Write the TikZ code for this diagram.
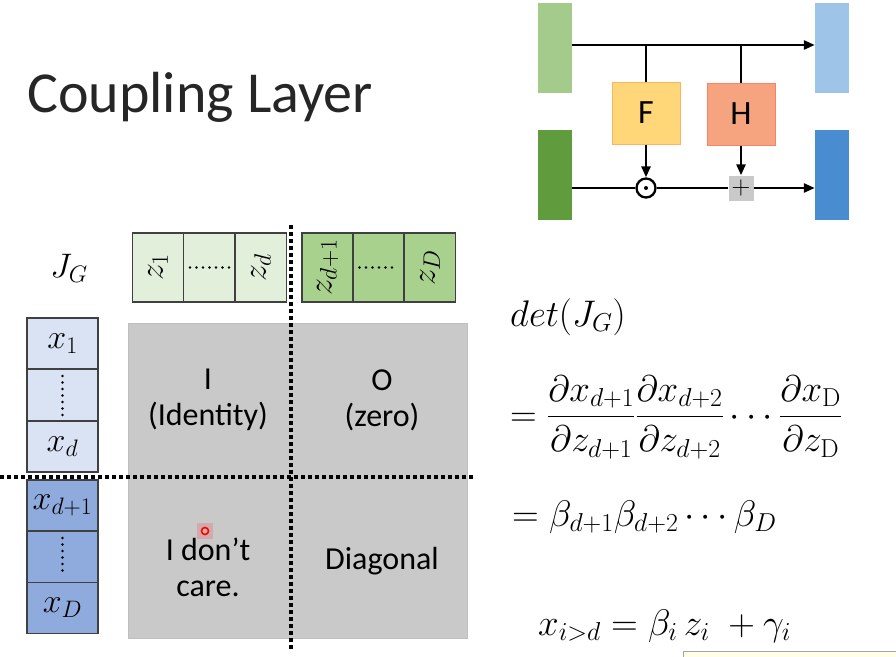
\RequirePackage{fix-cm}
\documentclass[tikz,border=0pt]{standalone}
\usepackage{amsmath}
\usepackage[no-math]{fontspec}
\setmainfont{Carlito}
\usetikzlibrary{arrows.meta}
\definecolor{zlight}{RGB}{226,239,218}
\definecolor{zdark}{RGB}{169,209,142}
\definecolor{xlight}{RGB}{218,227,243}
\definecolor{xdark}{RGB}{143,170,220}
\definecolor{gleft}{RGB}{165,203,140}
\definecolor{gdark}{RGB}{96,155,62}
\definecolor{bleft}{RGB}{158,197,232}
\definecolor{bdark}{RGB}{74,140,208}
\definecolor{fcol}{RGB}{255,214,120}
\definecolor{hcol}{RGB}{246,164,128}
\definecolor{mgray}{RGB}{201,201,201}
\begin{document}
\begin{tikzpicture}[x=1pt,y=-1pt,
        big/.style={font=\fontsize{32}{36}\selectfont, align=center},
        eq/.style={anchor=west, inner sep=0, font=\fontsize{37}{40}\selectfont},
        zcell/.style={draw=black!75, line width=1.2, minimum width=69, minimum height=51, inner sep=0, rotate=90, font=\fontsize{34}{36}\selectfont},
        xcell/.style={draw=black!75, line width=1.2, minimum width=71, minimum height=51, inner sep=0, font=\fontsize{34}{36}\selectfont},
        bar/.style={minimum width=34, minimum height=90, inner sep=0},
        fbox/.style={minimum width=68, minimum height=62, inner sep=0, line width=1, font=\fontsize{34}{40}\selectfont},
        cutline/.style={line width=4, dash pattern=on 3.5pt off 3.5pt},
        dots/.style={line width=2.6, line cap=round, dash pattern=on 0pt off 6.5pt},
        flow/.style={line width=2.5, -{Triangle[length=11pt,width=9pt]}}]
        \useasboundingbox (0,0) rectangle (896,656);

        \node[anchor=base west, inner sep=0, font=\fontsize{58}{62}\selectfont, text=black!85] (T) at (27,112) {Coupling Layer};

        \node[bar, fill=gleft] (G1) at (555,48) {};
        \node[bar, fill=gdark] (G2) at (555,175) {};
        \node[bar, fill=bleft] (B1) at (832,48) {};
        \node[bar, fill=bdark] (B2) at (832,175) {};
        \node[fbox, fill=fcol, draw=orange!60] (F) at (646,113) {F};
        \node[fbox, fill=hcol, draw=hcol!80!red] (H) at (741,114) {H};
        \node[circle, draw, line width=2.3, minimum size=19, inner sep=0] (O) at (646,188) {};
        \fill (O) circle (2);
        \node[fill=mgray, minimum size=25, inner sep=0, font=\fontsize{26}{26}\selectfont] (P) at (741,188) {$+$};
        \coordinate (T1) at (646,45);
        \coordinate (T2) at (741,45);
        \draw[line width=2.5] (G1.east |- T1) -- (T1) -- (T2);
        \draw[flow] (T2) -- (B1.west |- T2);
        \draw[line width=2.5] (T1) -- (F);
        \draw[line width=2.5] (T2) -- (H);
        \draw[flow] (F) -- (O);
        \draw[flow] (H) -- (P);
        \draw[line width=2.5] (G2.east |- O) -- (O) -- (P);
        \draw[flow] (P) -- (B2.west |- P);

        \node[font=\fontsize{34}{36}\selectfont] (J) at (69,268) {$J_G$};

        \node[zcell, fill=zlight] (Z1) at (158,267.5) {$z_1$};
        \node[zcell, fill=zlight] (Z2) at (209,267.5) {};
        \node[zcell, fill=zlight] (Z3) at (261,267.5) {$z_d$};
        \node[zcell, fill=zdark] (Z4) at (327.5,267.5) {$z_{d+1}$};
        \node[zcell, fill=zdark] (Z5) at (378.5,267.5) {};
        \node[zcell, fill=zdark] (Z6) at (430,267.5) {$z_D$};
        \draw[dots] ([xshift=-19pt]Z2.center) -- ([xshift=20pt]Z2.center);
        \draw[dots] ([xshift=-19pt]Z5.center) -- ([xshift=20pt]Z5.center);

        \node[xcell, fill=xlight] (X1) at (62.5,343.5) {$x_1$};
        \node[xcell, fill=xlight] (X2) at (62.5,395) {};
        \node[xcell, fill=xlight] (X3) at (62.5,446.5) {$x_d$};
        \node[xcell, fill=xdark] (X4) at (62.5,505.5) {$x_{d+1}$};
        \node[xcell, fill=xdark] (X5) at (62.5,557) {};
        \node[xcell, fill=xdark] (X6) at (62.5,608) {$x_D$};
        \draw[dots] ([yshift=19pt]X2.center) -- ([yshift=-20pt]X2.center);
        \draw[dots] ([yshift=19pt]X5.center) -- ([yshift=-20pt]X5.center);

        \draw[fill=mgray, draw=black!25] (128,323) rectangle (467,638);
        \draw[cutline] (291,225) -- (291,650);
        \draw[cutline] (0,477) -- (473,477);

        \node[big] (Q1) at (208,400) {I\\(Identity)};
        \node[big] (Q2) at (382,400) {O\\(zero)};
        \node[big] (Q3) at (208,567) {I don’t\\care.};
        \node[big] (Q4) at (382,561) {Diagonal};
        \fill[red, opacity=0.15] (197,523) rectangle (213,539);
        \draw[red, line width=1.6, fill=red!30] (205,531) circle (3.5);

        \node[eq] (E1) at (510,317) {$det(J_G)$};
        \node[eq] (E2) at (510,417) {$=\dfrac{\partial x_{d+1}}{\partial z_{d+1}}\dfrac{\partial x_{d+2}}{\partial z_{d+2}}\cdots\dfrac{\partial x_{\mathrm{D}}}{\partial z_{\mathrm{D}}}$};
        \node[eq] (E3) at (512,517) {$=\beta_{d+1}\beta_{d+2}\cdots\beta_D$};
        \node[eq] (E4) at (538,626) {$x_{i>d}=\beta_i\,z_i\;+\gamma_i$};

        \draw[draw=black!35, fill=yellow!10] (683,651) rectangle (900,662);
      \end{tikzpicture}
\end{document}
